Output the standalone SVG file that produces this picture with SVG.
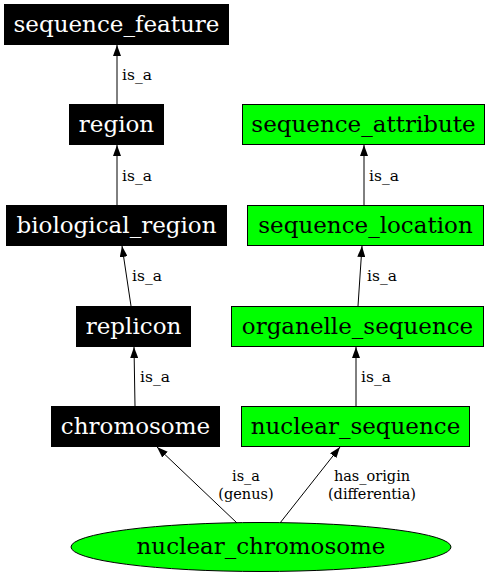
<svg xmlns="http://www.w3.org/2000/svg" width="491" height="576" viewBox="0 0 491 576">
<style>
.blk rect{fill:#000;stroke:#000}
.grn rect,.grn ellipse{fill:#00ff00;stroke:#000}
.nt{font-family:"DejaVu Serif",serif;font-size:23px;text-anchor:middle}
.blk .nt{fill:#fff}
.el{font-family:"DejaVu Serif",serif;font-size:15.5px}
.el2{font-family:"DejaVu Serif",serif;font-size:14.5px;text-anchor:middle}
.e line{stroke:#000;stroke-width:1}
</style>
<defs>
<marker id="ah" viewBox="0 0 11 8" refX="11" refY="4" markerWidth="11" markerHeight="8" markerUnits="userSpaceOnUse" orient="auto">
<path d="M0,0L11,4L0,8Z" fill="#000"/>
</marker>
</defs>
<rect width="491" height="576" fill="#fff"/>
<g id="edges" class="e">
<line x1="117" y1="104" x2="117" y2="45" marker-end="url(#ah)"/>
<text class="el" x="122" y="80">is_a</text>
<line x1="117" y1="205" x2="117" y2="145" marker-end="url(#ah)"/>
<text class="el" x="122" y="181">is_a</text>
<line x1="131" y1="306" x2="122" y2="246" marker-end="url(#ah)"/>
<text class="el" x="132" y="281">is_a</text>
<line x1="135" y1="406" x2="134" y2="347" marker-end="url(#ah)"/>
<text class="el" x="140" y="382">is_a</text>
<line x1="237" y1="523" x2="157" y2="447" marker-end="url(#ah)"/>
<text class="el2" x="246" y="481">is_a</text>
<text class="el2" x="246" y="498.5">(genus)</text>
<line x1="280" y1="523" x2="340" y2="447" marker-end="url(#ah)"/>
<text class="el2" x="372" y="481">has_origin</text>
<text class="el2" x="372" y="498.5">(differentia)</text>
<line x1="356" y1="406" x2="356" y2="347" marker-end="url(#ah)"/>
<text class="el" x="361" y="382">is_a</text>
<line x1="358" y1="306" x2="362" y2="246" marker-end="url(#ah)"/>
<text class="el" x="367" y="281">is_a</text>
<line x1="364" y1="205" x2="364" y2="145" marker-end="url(#ah)"/>
<text class="el" x="369" y="181">is_a</text>
</g>
<g id="sequence_feature" class="blk"><rect x="4.5" y="4.5" width="224" height="40"/><text class="nt" x="116.5" y="32">sequence_feature</text></g>
<g id="region" class="blk"><rect x="69.5" y="104.5" width="94" height="40"/><text class="nt" x="116.5" y="132">region</text></g>
<g id="biological_region" class="blk"><rect x="6.5" y="205.5" width="220" height="40"/><text class="nt" x="116.5" y="233">biological_region</text></g>
<g id="replicon" class="blk"><rect x="76.5" y="306.5" width="114" height="40"/><text class="nt" x="133.5" y="334">replicon</text></g>
<g id="chromosome" class="blk"><rect x="51.5" y="406.5" width="168" height="40"/><text class="nt" x="135.5" y="434">chromosome</text></g>
<g id="sequence_attribute" class="grn"><rect x="242.5" y="104.5" width="242" height="40"/><text class="nt" x="363.5" y="132">sequence_attribute</text></g>
<g id="sequence_location" class="grn"><rect x="247.5" y="205.5" width="236" height="40"/><text class="nt" x="365.5" y="233">sequence_location</text></g>
<g id="organelle_sequence" class="grn"><rect x="231.5" y="306.5" width="252" height="40"/><text class="nt" x="357.5" y="334">organelle_sequence</text></g>
<g id="nuclear_sequence" class="grn"><rect x="241.5" y="406.5" width="228" height="40"/><text class="nt" x="355.5" y="434">nuclear_sequence</text></g>
<g id="nuclear_chromosome" class="grn"><ellipse cx="261" cy="547" rx="190" ry="24.5"/><text class="nt" x="261" y="554">nuclear_chromosome</text></g>
</svg>
